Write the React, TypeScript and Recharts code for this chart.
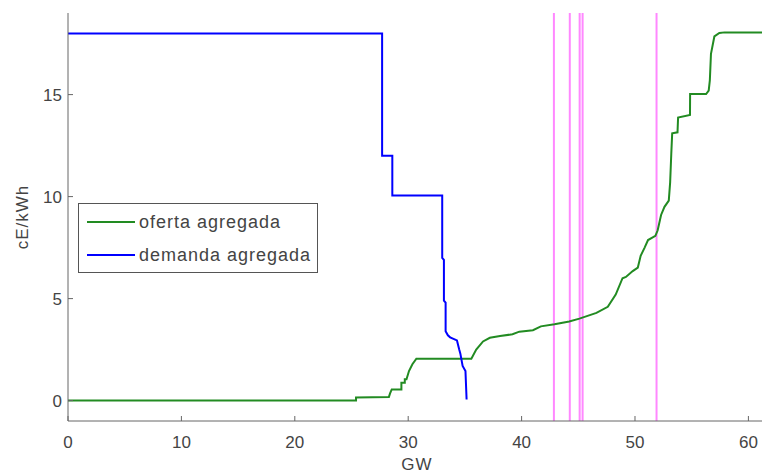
import React from 'react';
import { LineChart, Line, XAxis, YAxis, ReferenceLine } from 'recharts';

const supplyX = [0, 25.4, 25.4, 28.3, 28.4, 28.55, 29.4, 29.4, 29.7, 29.7, 29.85, 30.07, 30.37, 30.72, 35.57, 36.0, 36.6, 37.2, 38.1, 39.2, 39.8, 41.0, 41.7, 42.9, 44.2, 45.1, 46.6, 47.6, 48.3, 48.9, 49.2, 49.8, 50.25, 50.5, 50.85, 51.15, 51.8, 52.0, 52.3, 52.6, 52.98, 53.1, 53.2, 53.28, 53.75, 53.8, 54.85, 54.86, 56.27, 56.5, 56.6, 56.7, 57.0, 57.44, 57.9, 61.2];
const supplyY = [0, 0, 0.15, 0.18, 0.35, 0.55, 0.55, 0.88, 0.88, 1.05, 1.05, 1.45, 1.78, 2.05, 2.05, 2.5, 2.9, 3.08, 3.17, 3.25, 3.38, 3.45, 3.64, 3.74, 3.88, 4.02, 4.3, 4.6, 5.2, 6.0, 6.06, 6.35, 6.52, 7.1, 7.5, 7.87, 8.08, 8.35, 9.1, 9.5, 9.8, 10.7, 12.1, 13.1, 13.15, 13.88, 14.0, 15.03, 15.03, 15.2, 15.7, 17.0, 17.85, 18.02, 18.05, 18.05];

const demandX = [0, 27.7, 27.7, 28.6, 28.6, 33.0, 33.0, 33.15, 33.15, 33.3, 33.3, 33.5, 33.7, 34.3, 34.5, 34.6, 34.8, 35.05, 35.15];
const demandY = [18, 18, 12, 12, 10.05, 10.05, 7.0, 6.9, 4.9, 4.8, 3.4, 3.2, 3.1, 2.95, 2.5, 2.3, 1.7, 1.45, 0.05];

const marketLines = [42.85, 44.25, 45.12, 45.38, 51.9];
const xTicks = [0, 10, 20, 30, 40, 50, 60];
const yTicks = [0, 5, 10, 15];
const seriesNames = ['oferta agregada', 'demanda agregada'];
const seriesColors = ['#228b22', '#0000ff'];
const xLabel = 'GW';
const yLabel = 'cE/kWh';

const supplyData = supplyX.map((x, i) => ({ x, y: supplyY[i] }));
const demandData = demandX.map((x, i) => ({ x, y: demandY[i] }));

const FONT = '"Liberation Sans", Arial, Helvetica, sans-serif';

export default function App() {
  return (
    <div style={{ position: 'absolute', left: 0, top: 0, width: 763, height: 475, background: '#fff', fontFamily: FONT }}>
      <LineChart width={763} height={475} margin={{ top: 13, right: 1, bottom: 0, left: 0 }}>
        <XAxis
          type="number"
          dataKey="x"
          domain={[0, 61.2]}
          ticks={xTicks}
          allowDataOverflow
          height={54}
          tickSize={-5}
          tickMargin={20}
          stroke="#666"
          tick={{ fill: '#444', fontSize: 17, fontFamily: FONT }}
          label={{
            content: () => (
              <text x={417} y={470} textAnchor="middle" fill="#444" fontSize={17} fontFamily={FONT} letterSpacing={1}>
                {xLabel}
              </text>
            ),
          }}
        />
        <YAxis
          type="number"
          dataKey="y"
          domain={[-1, 19]}
          ticks={yTicks}
          allowDataOverflow
          width={68}
          tickSize={-5}
          tickMargin={11}
          stroke="#666"
          tick={{ fill: '#444', fontSize: 17, fontFamily: FONT }}
          label={{
            content: () => (
              <text x={22} y={217} transform="rotate(-90, 22, 217)" textAnchor="middle" dominantBaseline="central" fill="#444" fontSize={17} fontFamily={FONT} letterSpacing={1}>
                {yLabel}
              </text>
            ),
          }}
        />
        {marketLines.map((v) => (
          <ReferenceLine key={v} x={v} stroke="#ff88ff" strokeWidth={2} />
        ))}
        <Line data={supplyData} dataKey="y" type="linear" stroke={seriesColors[0]} strokeWidth={2} dot={false} isAnimationActive={false} name={seriesNames[0]} />
        <Line data={demandData} dataKey="y" type="linear" stroke={seriesColors[1]} strokeWidth={2} dot={false} isAnimationActive={false} name={seriesNames[1]} />
      </LineChart>
      <div
        style={{
          position: 'absolute',
          left: 78,
          top: 203,
          width: 240,
          height: 70,
          border: '1px solid #555',
          background: '#fff',
          boxSizing: 'border-box',
        }}
      >
        {seriesNames.map((n, i) => (
          <div key={n} style={{ position: 'absolute', left: 8, top: i === 0 ? 6 : 39, height: 24, display: 'flex', alignItems: 'center' }}>
            <div style={{ width: 48, height: 2, background: seriesColors[i], marginRight: 4 }} />
            <span style={{ fontSize: 18, color: '#444', letterSpacing: 1, whiteSpace: 'nowrap' }}>{n}</span>
          </div>
        ))}
      </div>
    </div>
  );
}
